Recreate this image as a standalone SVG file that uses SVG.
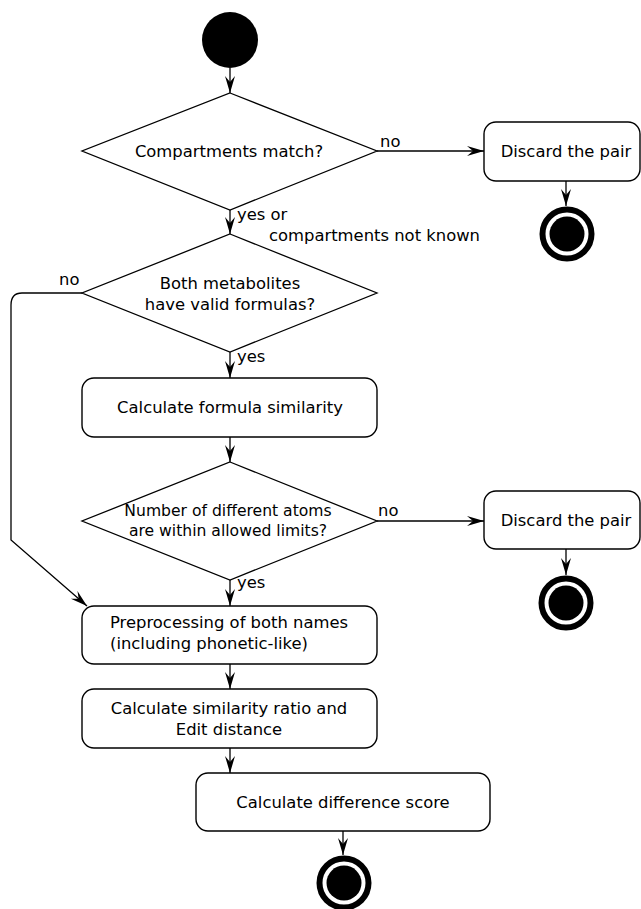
<svg xmlns="http://www.w3.org/2000/svg" width="641" height="909" viewBox="0 0 641 909">
<defs>
<marker id="arr" markerWidth="19" markerHeight="12" refX="17" refY="6" orient="auto" markerUnits="userSpaceOnUse">
<path d="M17,6 L0,1 L6,6 L0,11 Z" fill="#000"/>
</marker>
</defs>
<style>
.box{fill:#fff;stroke:#000;stroke-width:1.4}
.dia{fill:#fff;stroke:#000;stroke-width:1.3}
.t{font-family:"DejaVu Sans","Liberation Sans",sans-serif;font-size:16.4px;fill:#000}
.c{text-anchor:middle}
.lbl{font-family:"DejaVu Sans","Liberation Sans",sans-serif;font-size:16.4px;fill:#000}
.edge{fill:none;stroke:#000;stroke-width:1.3;marker-end:url(#arr)}
.ring{fill:#fff;stroke:#000;stroke-width:6}
</style>
<rect width="641" height="909" fill="#fff"/>
<g id="connectors">
<line class="edge" x1="230" y1="68" x2="230" y2="93"/>
<line class="edge" x1="377" y1="151" x2="484" y2="151"/>
<line class="edge" x1="566" y1="181" x2="566" y2="206"/>
<line class="edge" x1="230" y1="210" x2="230" y2="234"/>
<path class="edge" d="M82,293 L22,293 Q11,293 11,305 L11,540 L87,606"/>
<line class="edge" x1="230" y1="352" x2="230" y2="378"/>
<line class="edge" x1="230" y1="437" x2="230" y2="462"/>
<line class="edge" x1="377" y1="521" x2="484" y2="521"/>
<line class="edge" x1="566" y1="549" x2="566" y2="575"/>
<line class="edge" x1="230" y1="580" x2="230" y2="606"/>
<line class="edge" x1="230" y1="664" x2="230" y2="689"/>
<line class="edge" x1="230" y1="748" x2="230" y2="773"/>
<line class="edge" x1="343" y1="831" x2="343" y2="855"/>
<text class="lbl" x="380" y="147">no</text>
<text class="lbl" x="237" y="220">yes or</text>
<text class="lbl" x="269" y="241">compartments not known</text>
<text class="lbl" x="59" y="285">no</text>
<text class="lbl" x="237" y="362">yes</text>
<text class="lbl" x="378" y="516">no</text>
<text class="lbl" x="237" y="588">yes</text>
</g>
<g id="start"><circle cx="230" cy="40" r="28" fill="#000"/></g>
<g id="d1">
<polygon class="dia" points="230,93 377,151 230,210 82,151"/>
<text class="t c" x="229" y="157">Compartments match?</text>
</g>
<g id="discard1">
<rect class="box" x="484" y="122" width="156" height="59" rx="12"/>
<text class="t c" x="566" y="157">Discard the pair</text>
</g>
<g id="end1">
<circle class="ring" cx="567" cy="234" r="24.5"/>
<circle cx="567" cy="234" r="17.5" fill="#000"/>
</g>
<g id="d2">
<polygon class="dia" points="230,234 377,293 230,352 82,293"/>
<text class="t c" x="230" y="289">Both metabolites</text>
<text class="t c" x="230" y="310">have valid formulas?</text>
</g>
<g id="formula">
<rect class="box" x="82" y="378" width="295" height="59" rx="12"/>
<text class="t c" x="230" y="413">Calculate formula similarity</text>
</g>
<g id="d3">
<polygon class="dia" points="230,462 377,521 230,580 82,521"/>
<text class="t c" x="228" y="516" style="font-size:15.6px">Number of different atoms</text>
<text class="t c" x="228" y="536" style="font-size:15.6px">are within allowed limits?</text>
</g>
<g id="discard2">
<rect class="box" x="484" y="491" width="156" height="58" rx="12"/>
<text class="t c" x="566" y="526">Discard the pair</text>
</g>
<g id="end2">
<circle class="ring" cx="566" cy="603" r="24.5"/>
<circle cx="566" cy="603" r="17.5" fill="#000"/>
</g>
<g id="preproc">
<rect class="box" x="82" y="606" width="295" height="58" rx="12"/>
<text class="t" x="110" y="628">Preprocessing of both names</text>
<text class="t" x="110" y="649">(including phonetic-like)</text>
</g>
<g id="ratio">
<rect class="box" x="82" y="689" width="295" height="59" rx="12"/>
<text class="t c" x="229" y="714">Calculate similarity ratio and</text>
<text class="t c" x="229" y="735">Edit distance</text>
</g>
<g id="score">
<rect class="box" x="196" y="773" width="294" height="58" rx="12"/>
<text class="t c" x="343" y="808">Calculate difference score</text>
</g>
<g id="end3">
<circle class="ring" cx="344" cy="883" r="24.5"/>
<circle cx="344" cy="883" r="17.5" fill="#000"/>
</g>
</svg>
